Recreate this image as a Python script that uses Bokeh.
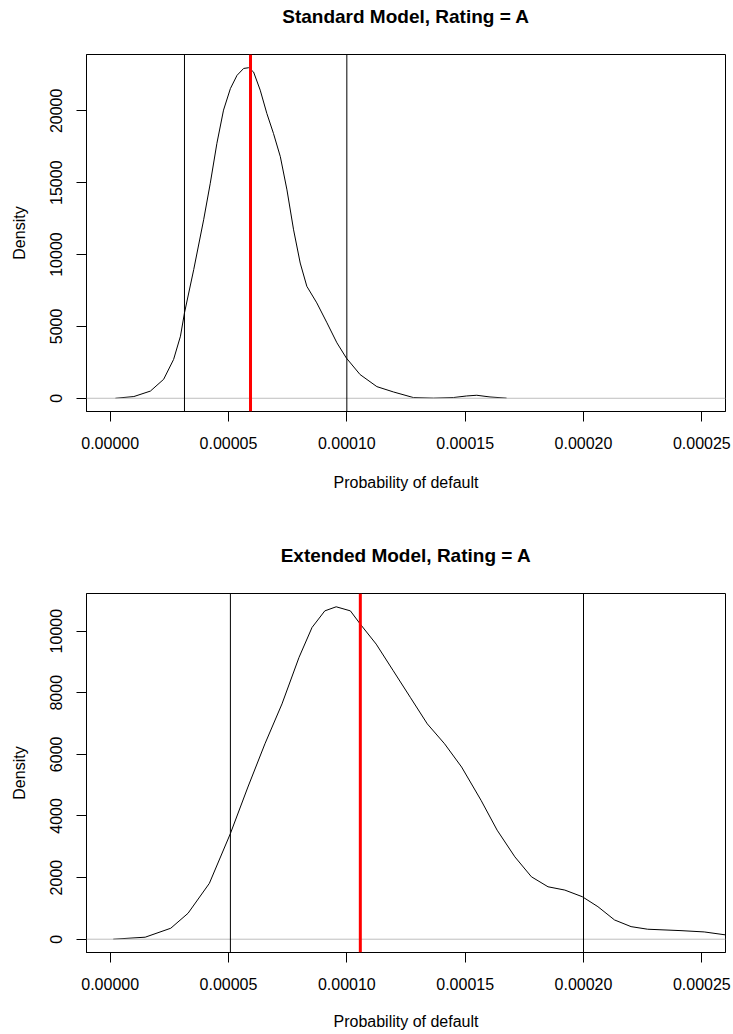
from bokeh.plotting import figure
from bokeh.models import Range1d, FixedTicker, Span
from bokeh.layouts import column
from bokeh.embed import file_html
from bokeh.resources import INLINE

# ---------------- data ----------------
titles = ["Standard Model, Rating = A", "Extended Model, Rating = A"]
x_label = "Probability of default"
y_label = "Density"

x_lim = [0.0, 0.00025]
x_ticks = [0.0, 0.00005, 0.00010, 0.00015, 0.00020, 0.00025]
x_tick_labels = ["0.00000", "0.00005", "0.00010", "0.00015", "0.00020", "0.00025"]

std_y_ticks = [0, 5000, 10000, 15000, 20000]
std_y_tick_labels = ["0", "5000", "10000", "15000", "20000"]
ext_y_ticks = [0, 2000, 4000, 6000, 8000, 10000]
ext_y_tick_labels = ["0", "2000", "4000", "6000", "8000", "10000"]

std_pd = [2.2e-6, 1.0e-5, 1.7e-5, 2.26e-5, 2.68e-5, 2.97e-5, 3.14e-5, 3.53e-5,
          3.95e-5, 4.23e-5, 4.51e-5, 4.79e-5, 5.08e-5, 5.36e-5, 5.64e-5, 5.85e-5,
          6.06e-5, 6.34e-5, 6.62e-5, 6.90e-5, 7.19e-5, 7.47e-5, 7.75e-5, 8.03e-5,
          8.31e-5, 8.73e-5, 9.16e-5, 9.58e-5, 9.98e-5, 1.056e-4, 1.127e-4, 1.197e-4,
          1.281e-4, 1.366e-4, 1.450e-4, 1.506e-4, 1.549e-4, 1.605e-4, 1.675e-4]
std_density = [0, 120, 500, 1320, 2700, 4320, 5940, 8950,
               12420, 14960, 17740, 20050, 21550, 22470, 22950, 23000,
               22700, 21440, 19820, 18430, 16810, 14500, 11720, 9410,
               7790, 6640, 5250, 3860, 2800, 1650, 810, 440,
               50, 10, 50, 160, 210, 90, 10]
std_bounds = [3.14e-5, 1.0e-4]
std_mean = 5.93e-5

ext_pd = [1.3e-6, 1.48e-5, 2.56e-5, 3.29e-5, 4.19e-5, 5.08e-5, 5.82e-5, 6.54e-5,
          7.26e-5, 7.98e-5, 8.53e-5, 9.07e-5, 9.55e-5, 1.015e-4, 1.057e-4, 1.124e-4,
          1.196e-4, 1.268e-4, 1.340e-4, 1.413e-4, 1.485e-4, 1.567e-4, 1.635e-4, 1.710e-4,
          1.780e-4, 1.850e-4, 1.921e-4, 1.995e-4, 2.061e-4, 2.131e-4, 2.201e-4, 2.271e-4,
          2.412e-4, 2.510e-4, 2.601e-4]
ext_density = [0, 65, 356, 841, 1812, 3430, 4940, 6343,
               7638, 9148, 10119, 10658, 10790, 10658, 10227, 9579,
               8716, 7853, 6990, 6343, 5588, 4510, 3540, 2673,
               2026, 1702, 1595, 1379, 1055, 625, 408, 324,
               278, 236, 139]
ext_bounds = [5.08e-5, 2.0e-4]
ext_mean = 1.057e-4

FONT = "Liberation Sans"
XSPAN = x_lim[1] - x_lim[0]


def title_strip(title, height):
    # a slim figure that only carries the main title, placed high like R's title
    t = figure(width=733, height=height, output_backend="svg", toolbar_location=None,
               x_range=Range1d(x_lim[0] - 0.04 * XSPAN, x_lim[1] + 0.04 * XSPAN),
               y_range=Range1d(0, 1), x_axis_type=None, y_axis_type=None,
               min_border_left=86, min_border_right=8, min_border_top=0,
               min_border_bottom=0, title=title)
    t.outline_line_color = None
    t.background_fill_color = "white"
    t.border_fill_color = "white"
    t.title.text_font = FONT
    t.title.text_font_size = "19px"
    t.title.text_font_style = "bold"
    t.title.align = "center"
    t.title.text_color = "black"
    t.title.standoff = 6
    return t


def panel(xs, ys, bounds, mean, yticks, ylabels, height, mb_bottom, xl_standoff):
    ymax = max(ys)
    p = figure(width=733, height=height, output_backend="svg", toolbar_location=None,
               x_range=Range1d(x_lim[0] - 0.04 * XSPAN, x_lim[1] + 0.04 * XSPAN),
               y_range=Range1d(-0.04 * ymax, 1.04 * ymax),
               min_border_left=86, min_border_right=8, min_border_top=1,
               min_border_bottom=mb_bottom, title=None)
    p.background_fill_color = "white"
    p.border_fill_color = "white"
    p.outline_line_color = "black"
    p.outline_line_width = 1
    p.outline_line_alpha = 1
    p.grid.visible = False

    xa = p.xaxis[0]
    xa.ticker = FixedTicker(ticks=x_ticks)
    xa.major_label_overrides = dict(zip(x_ticks, x_tick_labels))
    xa.axis_label = x_label
    ya = p.yaxis[0]
    ya.ticker = FixedTicker(ticks=yticks)
    ya.major_label_overrides = dict(zip(yticks, ylabels))
    ya.axis_label = y_label
    ya.major_label_orientation = "vertical"
    for ax in (xa, ya):
        ax.axis_line_color = "black"
        ax.major_tick_line_color = "black"
        ax.minor_tick_line_color = None
        ax.major_tick_out = 10
        ax.major_tick_in = 0
        ax.major_label_text_font = FONT
        ax.major_label_text_font_size = "16px"
        ax.major_label_text_color = "black"
        ax.axis_label_text_font = FONT
        ax.axis_label_text_font_size = "16px"
        ax.axis_label_text_font_style = "normal"
        ax.axis_label_text_color = "black"
    xa.major_label_standoff = 15
    xa.axis_label_standoff = xl_standoff
    ya.major_label_standoff = 14
    ya.axis_label_standoff = 20

    p.line(xs, ys, line_color="black", line_width=1)
    p.add_layout(Span(location=0, dimension="width", line_color="#BEBEBE", line_width=1))
    for b in bounds:
        p.add_layout(Span(location=b, dimension="height", line_color="black", line_width=1))
    p.add_layout(Span(location=mean, dimension="height", line_color="#FF0000", line_width=3))
    return p


t1 = title_strip(titles[0], 53)
p1 = panel(std_pd, std_density, std_bounds, std_mean,
           std_y_ticks, std_y_tick_labels, 486, 128, 22)
t2 = title_strip(titles[1], 53)
p2 = panel(ext_pd, ext_density, ext_bounds, ext_mean,
           ext_y_ticks, ext_y_tick_labels, 442, 82, 20)

layout = column(t1, p1, t2, p2, spacing=0)
open("out.html", "w").write(file_html(layout, INLINE))
